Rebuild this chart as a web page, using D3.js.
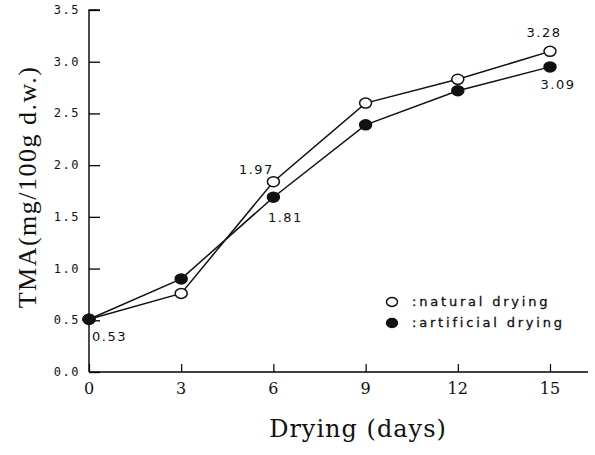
<!DOCTYPE html>
<html>
<head>
<meta charset="utf-8">
<script src="https://cdn.jsdelivr.net/npm/d3@7"></script>
<style>
  body { margin: 0; background: #fff; }
  svg text { fill: #111; }
</style>
</head>
<body>
<div id="graph"></div>
<script>
// dados
const days = [0, 3, 6, 9, 12, 15];
const natural = [0.51, 0.76, 1.84, 2.60, 2.83, 3.10];
const artificial = [0.51, 0.90, 1.69, 2.39, 2.72, 2.95];
const yTicks = [0.0, 0.5, 1.0, 1.5, 2.0, 2.5, 3.0, 3.5];
const xTicks = [0, 3, 6, 9, 12, 15];
// rotulos de valores (dia, serie, texto)
const notes = [
  { day: 0, serie: "artificial", text: "0.53", dx: 3, dy: 22, anchor: "start" },
  { day: 6, serie: "natural", text: "1.97", dx: -17, dy: -8, anchor: "middle" },
  { day: 6, serie: "artificial", text: "1.81", dx: 12, dy: 25, anchor: "middle" },
  { day: 15, serie: "natural", text: "3.28", dx: -6, dy: -14, anchor: "middle" },
  { day: 15, serie: "artificial", text: "3.09", dx: 8, dy: 22, anchor: "middle" }
];

const width = 595;
const height = 455;

const svg = d3.select("#graph")
  .append("svg")
  .attr("width", width)
  .attr("height", height);

const x = d3.scaleLinear().domain([0, 15]).range([89, 550]);
const y = d3.scaleLinear().domain([0, 3.5]).range([372, 10]);

// eixo Y (ticks para dentro)
const yAxis = svg.append("g")
  .attr("transform", `translate(${x(0)},0)`)
  .call(d3.axisRight(y).tickValues(yTicks).tickSize(11).tickFormat(""));
yAxis.select(".domain").attr("d", `M11,${y(3.5)}H0V${y(0)}`).attr("stroke-width", 1.4);
yAxis.selectAll(".tick line").attr("stroke-width", 1.3);

svg.selectAll(".ylab")
  .data(yTicks)
  .join("text")
  .attr("class", "ylab")
  .attr("x", 80)
  .attr("y", d => y(d) + 4)
  .attr("text-anchor", "end")
  .attr("font-family", "DejaVu Sans Mono")
  .attr("font-size", "12px")
  .attr("letter-spacing", "1.5px")
  .text(d => d3.format(".1f")(d));

// eixo X (ticks para cima)
const xAxis = svg.append("g")
  .attr("transform", `translate(0,${y(0)})`)
  .call(d3.axisTop(x).tickValues(xTicks).tickSize(8).tickFormat(""));
xAxis.select(".domain").attr("d", `M${x(0)},0H588`).attr("stroke-width", 1.4);
xAxis.selectAll(".tick line").attr("stroke-width", 1.2);

svg.selectAll(".xlab")
  .data(xTicks)
  .join("text")
  .attr("class", "xlab")
  .attr("x", d => x(d))
  .attr("y", 394)
  .attr("text-anchor", "middle")
  .attr("font-family", "DejaVu Serif")
  .attr("font-size", "16px")
  .text(d => d);

// titulos dos eixos
svg.append("text")
  .attr("transform", `translate(36,187) rotate(-90)`)
  .attr("text-anchor", "middle")
  .attr("font-family", "Liberation Serif")
  .attr("font-size", "26px")
  .attr("letter-spacing", "1.5px")
  .text("TMA(mg/100g  d.w.)");

svg.append("text")
  .attr("x", 358)
  .attr("y", 437)
  .attr("text-anchor", "middle")
  .attr("font-family", "DejaVu Serif")
  .attr("font-size", "24px")
  .attr("letter-spacing", "1px")
  .text("Drying  (days)");

// linhas
const series = [
  { name: "natural", values: natural, fill: "#fff" },
  { name: "artificial", values: artificial, fill: "#111" }
];
const line = d3.line().x(d => x(d[0])).y(d => y(d[1]));

series.forEach(s => {
  const pts = days.map((d, i) => [d, s.values[i]]);
  svg.append("path")
    .datum(pts)
    .attr("fill", "none")
    .attr("stroke", "#111")
    .attr("stroke-width", 1.5)
    .attr("d", line);
});
series.forEach(s => {
  const pts = days.map((d, i) => [d, s.values[i]]);
  svg.selectAll(".pt-" + s.name)
    .data(pts)
    .join("ellipse")
    .attr("cx", d => x(d[0]))
    .attr("cy", d => y(d[1]))
    .attr("rx", 6)
    .attr("ry", 5)
    .attr("fill", s.fill)
    .attr("stroke", "#111")
    .attr("stroke-width", 1.5);
});

// rotulos
svg.selectAll(".note")
  .data(notes)
  .join("text")
  .attr("x", d => x(d.day) + d.dx)
  .attr("y", d => y((d.serie === "natural" ? natural : artificial)[days.indexOf(d.day)]) + d.dy)
  .attr("text-anchor", d => d.anchor)
  .attr("font-family", "DejaVu Sans")
  .attr("font-size", "13px")
  .attr("letter-spacing", "1.5px")
  .text(d => d.text);

// legenda
const legend = [
  { label: ":natural drying", fill: "#fff" },
  { label: ":artificial drying", fill: "#111" }
];
const lg = svg.selectAll(".lg")
  .data(legend)
  .join("g")
  .attr("transform", (d, i) => `translate(392,${302 + i * 21})`);
lg.append("ellipse")
  .attr("rx", 5.5).attr("ry", 4.5)
  .attr("fill", d => d.fill)
  .attr("stroke", "#111")
  .attr("stroke-width", 1.5);
lg.append("text")
  .attr("x", 20)
  .attr("y", 4)
  .attr("font-family", "DejaVu Sans")
  .attr("font-size", "13px")
  .attr("letter-spacing", "2.8px")
  .attr("stroke", "#111")
  .attr("stroke-width", 0.3)
  .text(d => d.label);
</script>
</body>
</html>
